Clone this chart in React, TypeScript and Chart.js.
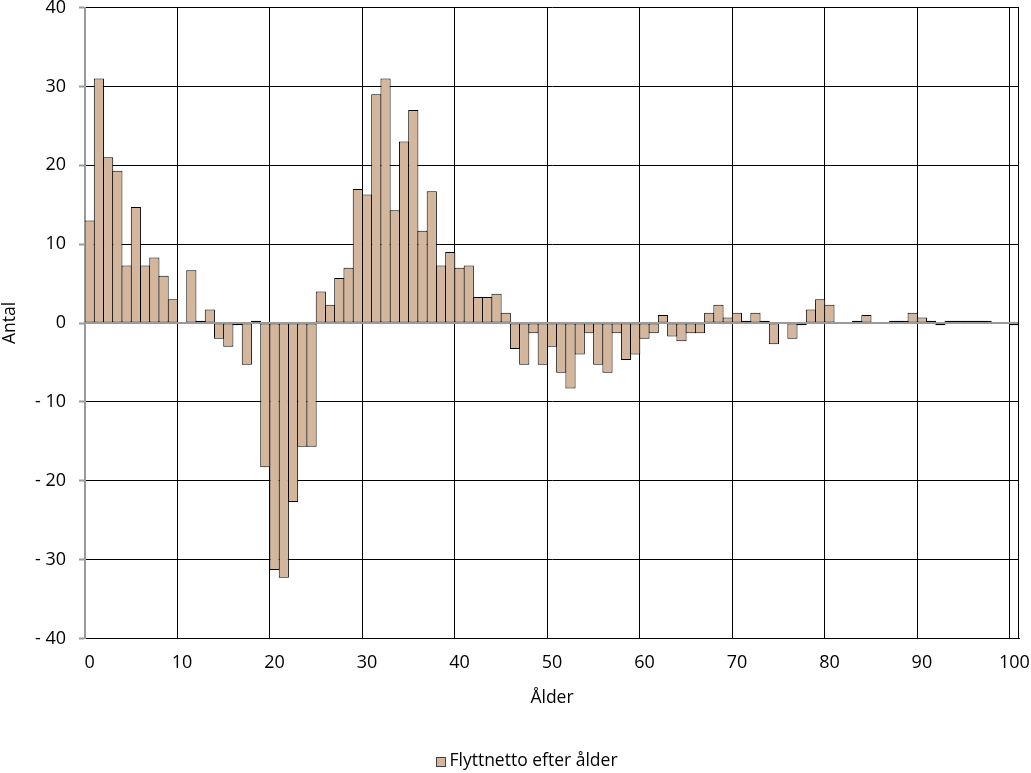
import React, { useEffect, useRef } from "react";
import { Chart, registerables } from "chart.js";

Chart.register(...registerables);

const ages: string[] = Array.from({ length: 101 }, (_, i) => String(i));

const flyttnetto: number[] = [
  13, 31, 21, 19.3, 7.3, 14.7, 7.3, 8.3, 6, 3,
  0, 6.7, 0.3, 1.7, -2, -3, -0.3, -5.3, 0.3, -18.3,
  -31.3, -32.3, -22.7, -15.7, -15.7, 4, 2.3, 5.7, 7, 17,
  16.3, 29, 31, 14.3, 23, 27, 11.7, 16.7, 7.3, 9,
  7, 7.3, 3.3, 3.3, 3.7, 1.3, -3.3, -5.3, -1.3, -5.3,
  -3, -6.3, -8.3, -4, -1.3, -5.3, -6.3, -1.3, -4.7, -4,
  -2, -1.3, 1, -1.7, -2.3, -1.3, -1.3, 1.3, 2.3, 0.7,
  1.3, 0.3, 1.3, 0.3, -2.7, 0, -2, -0.3, 1.7, 3,
  2.3, 0, 0, 0.3, 1, 0, 0, 0.3, 0.3, 1.3,
  0.7, 0.3, -0.3, 0.3, 0.3, 0.3, 0.3, 0.3, 0, 0,
  -0.3,
];

const yMin = -40;
const yMax = 40;
const yStep = 10;

const seriesLabel = "Flyttnetto efter ålder";
const xTitle = "Ålder";
const yTitle = "Antal";

const FONT = "'Open Sans', sans-serif";
const FSIZE = 17.5;
const TICKSIZE = 18;
const FILL = "#D3B69C";

export default function App() {
  const ref = useRef<HTMLCanvasElement | null>(null);

  useEffect(() => {
    if (!ref.current) return;

    const framePlugin = {
      id: "frame",
      afterDatasetsDraw(chart: any) {
        const { ctx, chartArea, scales } = chart;
        const y0 = scales.y.getPixelForValue(0);
        ctx.save();
        ctx.strokeStyle = "#9a9a9a";
        ctx.lineWidth = 2;
        ctx.beginPath();
        ctx.moveTo(chartArea.left - 1, y0);
        ctx.lineTo(chartArea.right, y0);
        ctx.stroke();
        ctx.strokeStyle = "#000";
        ctx.lineWidth = 1;
        ctx.beginPath();
        const rx = Math.round(chartArea.right) - 0.5;
        ctx.moveTo(rx, chartArea.top);
        ctx.lineTo(rx, chartArea.bottom);
        ctx.stroke();
        ctx.restore();
      },
      afterDraw(chart: any) {
        const { ctx } = chart;
        ctx.save();
        ctx.font = `${FSIZE}px ${FONT}`;
        const tw = ctx.measureText(seriesLabel).width;
        const box = 9;
        const gap = 4;
        const total = box + gap + tw;
        const cx = 527;
        const cy = 761;
        const x0 = cx - total / 2;
        ctx.fillStyle = FILL;
        ctx.fillRect(Math.round(x0) + 0.5, Math.round(cy - box / 2) + 0.5, box, box);
        ctx.strokeStyle = "#404040";
        ctx.lineWidth = 1;
        ctx.strokeRect(Math.round(x0) + 0.5, Math.round(cy - box / 2) + 0.5, box, box);
        ctx.fillStyle = "#000";
        ctx.textBaseline = "middle";
        ctx.textAlign = "left";
        ctx.fillText(seriesLabel, x0 + box + gap, cy);
        ctx.restore();
      },
    };

    const chart = new Chart(ref.current, {
      type: "bar",
      data: {
        labels: ages,
        datasets: [
          {
            label: seriesLabel,
            data: flyttnetto,
            backgroundColor: FILL,
            borderColor: "#000",
            borderWidth: 1,
            borderSkipped: false,
            barPercentage: 1.1,
            categoryPercentage: 1,
          },
        ],
      },
      options: {
        animation: false,
        responsive: true,
        maintainAspectRatio: false,
        devicePixelRatio: 1,
        layout: { padding: { top: 7.5, right: 12, left: 0, bottom: 64.8 } },
        plugins: {
          legend: { display: false },
          tooltip: { enabled: false },
        },
        scales: {
          x: {
            type: "category",
            offset: true,
            grid: {
              offset: true,
              drawTicks: false,
              color: (ctx: any) =>
                ctx.index !== undefined && ctx.index > 0 && ctx.index % 10 === 0 ? "#000" : "rgba(0,0,0,0)",
              lineWidth: 1,
            },
            border: { display: true, color: "#000", width: 1 },
            ticks: {
              autoSkip: false,
              maxRotation: 0,
              minRotation: 0,
              padding: 14,
              color: "#000",
              font: { family: FONT, size: TICKSIZE },
              callback: (_v: any, i: number) => (i % 10 === 0 ? ages[i] : ""),
            },
            title: {
              display: true,
              text: xTitle,
              color: "#000",
              font: { family: FONT, size: FSIZE },
              padding: { top: 0, bottom: 0 },
            },
            afterFit: (scale: any) => {
              scale.height = 69.7;
              scale.paddingLeft = 0;
              scale.paddingRight = 0;
            },
          },
          y: {
            min: yMin,
            max: yMax,
            grid: {
              color: (ctx: any) => (ctx.tick && ctx.tick.value === 0 ? "rgba(0,0,0,0)" : "#000"),
              lineWidth: 1,
              drawTicks: true,
              tickLength: 6,
              tickColor: "#9a9a9a",
              tickWidth: 2,
            },
            border: { display: true, color: "#9a9a9a", width: 2 },
            ticks: {
              stepSize: yStep,
              padding: 13,
              color: "#000",
              font: { family: FONT, size: TICKSIZE },
              callback: (v: any) => (Number(v) < 0 ? "- " + Math.abs(Number(v)) : String(v)),
            },
            title: {
              display: true,
              text: yTitle,
              color: "#000",
              font: { family: FONT, size: FSIZE },
              padding: { top: 0, bottom: 0 },
            },
            afterFit: (scale: any) => {
              scale.width = 85;
              scale.paddingTop = 0;
              scale.paddingBottom = 0;
            },
          },
        },
      },
      plugins: [framePlugin],
    });

    return () => chart.destroy();
  }, []);

  return (
    <div style={{ position: "absolute", left: 0, top: 0, width: 1031, height: 773, background: "#fff" }}>
      <canvas ref={ref} />
    </div>
  );
}
